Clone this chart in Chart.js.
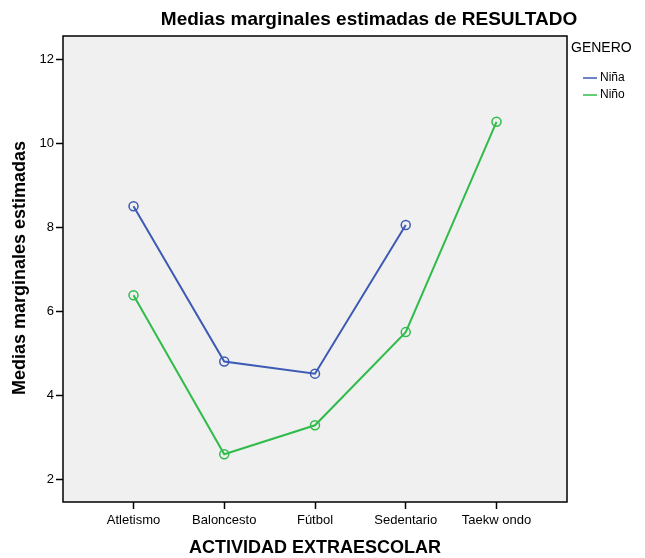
<!DOCTYPE html>
<html>
<head>
<meta charset="utf-8">
<script src="https://cdn.jsdelivr.net/npm/chart.js@4"></script>
<style>
  html, body { margin: 0; padding: 0; background: #fff; }
  #wrap { width: 645px; height: 558px; }
</style>
</head>
<body>
<div id="wrap"><canvas id="chart" width="645" height="558"></canvas></div>
<script>
// Data
const categories = ["Atletismo", "Baloncesto", "Fútbol", "Sedentario", "Taekw ondo"];
const ninaValues = [8.50, 4.80, 4.51, 8.05, null];
const ninoValues = [6.38, 2.59, 3.28, 5.50, 10.51];
const yTicks = [2, 4, 6, 8, 10, 12];

const FONT = "Arial, 'Liberation Sans', sans-serif";
const BLUE = "#3d5ab4";
const GREEN = "#2fbc4b";

function toPoints(values) {
  return values.map((v, i) => ({ x: i, y: v }));
}

// background, frame, titles and legend in SPSS style
const decor = {
  id: "decor",
  beforeDraw(chart) {
    const { ctx, chartArea: a } = chart;
    ctx.save();
    ctx.fillStyle = "#f0f0f0";
    ctx.fillRect(a.left, a.top, a.right - a.left, a.bottom - a.top);
    ctx.restore();
  },
  afterDraw(chart) {
    const { ctx, chartArea: a } = chart;
    ctx.save();
    ctx.strokeStyle = "#000";
    ctx.lineWidth = 1.5;
    ctx.strokeRect(a.left, a.top, a.right - a.left, a.bottom - a.top);

    ctx.fillStyle = "#000";
    ctx.textAlign = "center";
    ctx.textBaseline = "middle";
    ctx.font = "bold 19px " + FONT;
    ctx.fillText("Medias marginales estimadas de RESULTADO", 369, 20);
    ctx.font = "bold 18px " + FONT;
    ctx.fillText("ACTIVIDAD EXTRAESCOLAR", 315, 548);

    ctx.translate(20, 268);
    ctx.rotate(-Math.PI / 2);
    ctx.fillText("Medias marginales estimadas", 0, 0);
    ctx.restore();

    // legend
    ctx.save();
    ctx.fillStyle = "#000";
    ctx.textAlign = "left";
    ctx.textBaseline = "middle";
    ctx.font = "14px " + FONT;
    ctx.fillText("GENERO", 571, 48);
    ctx.font = "12px " + FONT;
    chart.data.datasets.forEach((ds, i) => {
      const y = 78 + i * 17;
      ctx.strokeStyle = ds.borderColor;
      ctx.lineWidth = 1.5;
      ctx.beginPath();
      ctx.moveTo(583, y);
      ctx.lineTo(597, y);
      ctx.stroke();
      ctx.fillText(ds.label, 600, y);
    });
    ctx.restore();
  }
};

new Chart(document.getElementById("chart").getContext("2d"), {
  type: "line",
  data: {
    datasets: [
      {
        label: "Niña",
        data: toPoints(ninaValues),
        borderColor: BLUE,
        backgroundColor: "rgba(0,0,0,0)",
        pointBorderColor: BLUE,
        pointBackgroundColor: "rgba(0,0,0,0)",
        borderWidth: 2,
        pointRadius: 4.5,
        pointBorderWidth: 1.5,
        spanGaps: false
      },
      {
        label: "Niño",
        data: toPoints(ninoValues),
        borderColor: GREEN,
        backgroundColor: "rgba(0,0,0,0)",
        pointBorderColor: GREEN,
        pointBackgroundColor: "rgba(0,0,0,0)",
        borderWidth: 2,
        pointRadius: 4.5,
        pointBorderWidth: 1.5
      }
    ]
  },
  options: {
    responsive: false,
    animation: false,
    layout: { padding: { left: 0, top: 36, right: 78, bottom: 0 } },
    plugins: {
      legend: { display: false },
      title: { display: false },
      tooltip: { enabled: false }
    },
    scales: {
      x: {
        type: "linear",
        min: -0.777,
        max: 4.777,
        afterBuildTicks(axis) {
          axis.ticks = categories.map((c, i) => ({ value: i }));
        },
        afterFit(axis) { axis.height = 56; },
        ticks: {
          autoSkip: false,
          maxRotation: 0,
          color: "#000",
          padding: 4,
          font: { family: FONT, size: 13 },
          callback: (v) => categories[v]
        },
        grid: {
          drawOnChartArea: false,
          drawTicks: true,
          tickLength: 7,
          tickWidth: 1.5,
          tickColor: "#000"
        },
        border: { display: false }
      },
      y: {
        min: 1.452,
        max: 12.555,
        afterBuildTicks(axis) {
          axis.ticks = yTicks.map(v => ({ value: v }));
        },
        afterFit(axis) { axis.width = 63; },
        ticks: {
          color: "#000",
          padding: 2,
          font: { family: FONT, size: 13 }
        },
        grid: {
          drawOnChartArea: false,
          drawTicks: true,
          tickLength: 7,
          tickWidth: 1.5,
          tickColor: "#000"
        },
        border: { display: false }
      }
    }
  },
  plugins: [decor]
});
</script>
</body>
</html>
